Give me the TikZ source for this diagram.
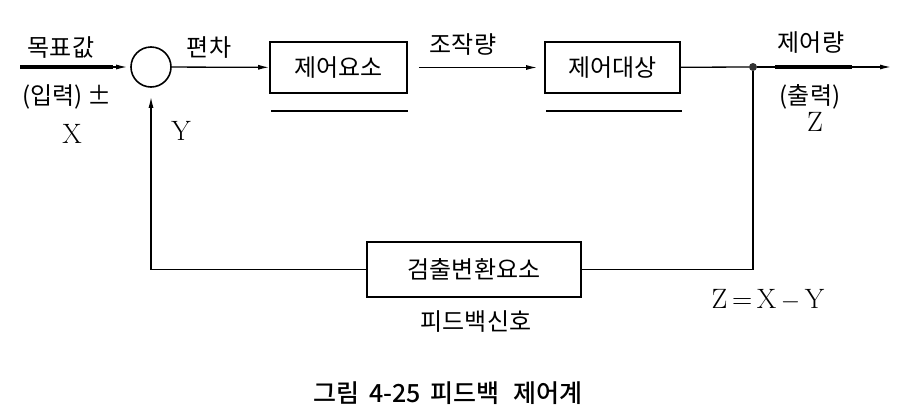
\documentclass[tikz,border=0pt]{standalone}
\usepackage{fontspec}
\newfontfamily\kr{Noto Sans CJK KR}
\newfontfamily\krm{Noto Sans CJK KR Medium}
\usetikzlibrary{arrows.meta}

\begin{document}
\begin{tikzpicture}[x=1pt,y=-1pt,
  blk/.style={draw,line width=1.6pt,font=\kr\fontsize{24}{28}\selectfont},
  sum/.style={draw,circle,line width=1.6pt,minimum size=40pt,inner sep=0pt},
  jdot/.style={circle,fill=black!80,minimum size=8pt,inner sep=0pt},
  lbl/.style={font=\kr\fontsize{24}{28}\selectfont},
  sym/.style={font=\fontsize{28}{32}\selectfont},
  ln/.style={line width=1.3pt},
  ar/.style={line width=1.3pt,-{Latex[length=11pt,width=5pt]}},
  thk/.style={line width=3.5pt},
  uline/.style={line width=2.5pt}]
\useasboundingbox (0,0) rectangle (900,413);
% Blocks of the loop
\node[sum] (sum) at (151,67) {};
\node[blk,minimum width=137pt,minimum height=51pt] (ctl) at (338.5,67.5) {제어요소};
\node[blk,minimum width=135pt,minimum height=51pt] (plant) at (612.5,67.5) {제어대상};
\node[blk,minimum width=214pt,minimum height=55pt] (sens) at (474,269.5) {검출변환요소};
\node[jdot] (jn) at (753,67) {};
\coordinate (in) at (20,67);
\coordinate (inthk) at (113,67);
\coordinate (out) at (891,67);
\coordinate (zt1) at (775,67);
\coordinate (zt2) at (852,67);
% Connectors
\draw[thk] (in) -- (inthk);
\draw[ar,shorten >=3pt] (in) -- (sum);
\draw[ar] (sum) -- (ctl);
\draw[ar,shorten <=11pt,shorten >=7pt] (ctl) -- (plant);
\draw[ln] (plant) -- (jn);
\draw[ar] (jn) -- (out);
\draw[thk] (zt1) -- (zt2);
\draw[ln] (jn) |- (sens);
\draw[ar,shorten >=9pt] (sens) -| (sum);
\draw[uline] ([xshift=2pt,yshift=-17pt]ctl.south west) -- ([yshift=-17pt]ctl.south east);
\draw[uline] ([xshift=2pt,yshift=-17pt]plant.south west) -- ([xshift=1pt,yshift=-17pt]plant.south east);
% Labels
\node[lbl] (goal) at (61,48) {목표값};
\node[lbl] (inp) at (67,97) {(입력) ±};
\node[sym] (xin) at (72,134) {X};
\node[sym] (yfb) at (181,131) {Y};
\node[lbl] (dev) at (209,48) {편차};
\node[lbl] (man) at (463,45) {조작량};
\node[lbl] (cv) at (811,43) {제어량};
\node[lbl] (outp) at (810,97) {(출력)};
\node[sym] (zout) at (815,122) {Z};
\node[sym] (eq) at (768,300) {Z\,=\,X\,$-$\,Y};
\node[lbl] (fbs) at (476,322) {피드백신호};
\node[lbl,font=\krm\fontsize{25}{29}\selectfont] (cap) at (448,393) {그림\hspace{0.4em}4-25\hspace{0.4em}피드백\hspace{0.55em}제어계};
\end{tikzpicture}
\end{document}
